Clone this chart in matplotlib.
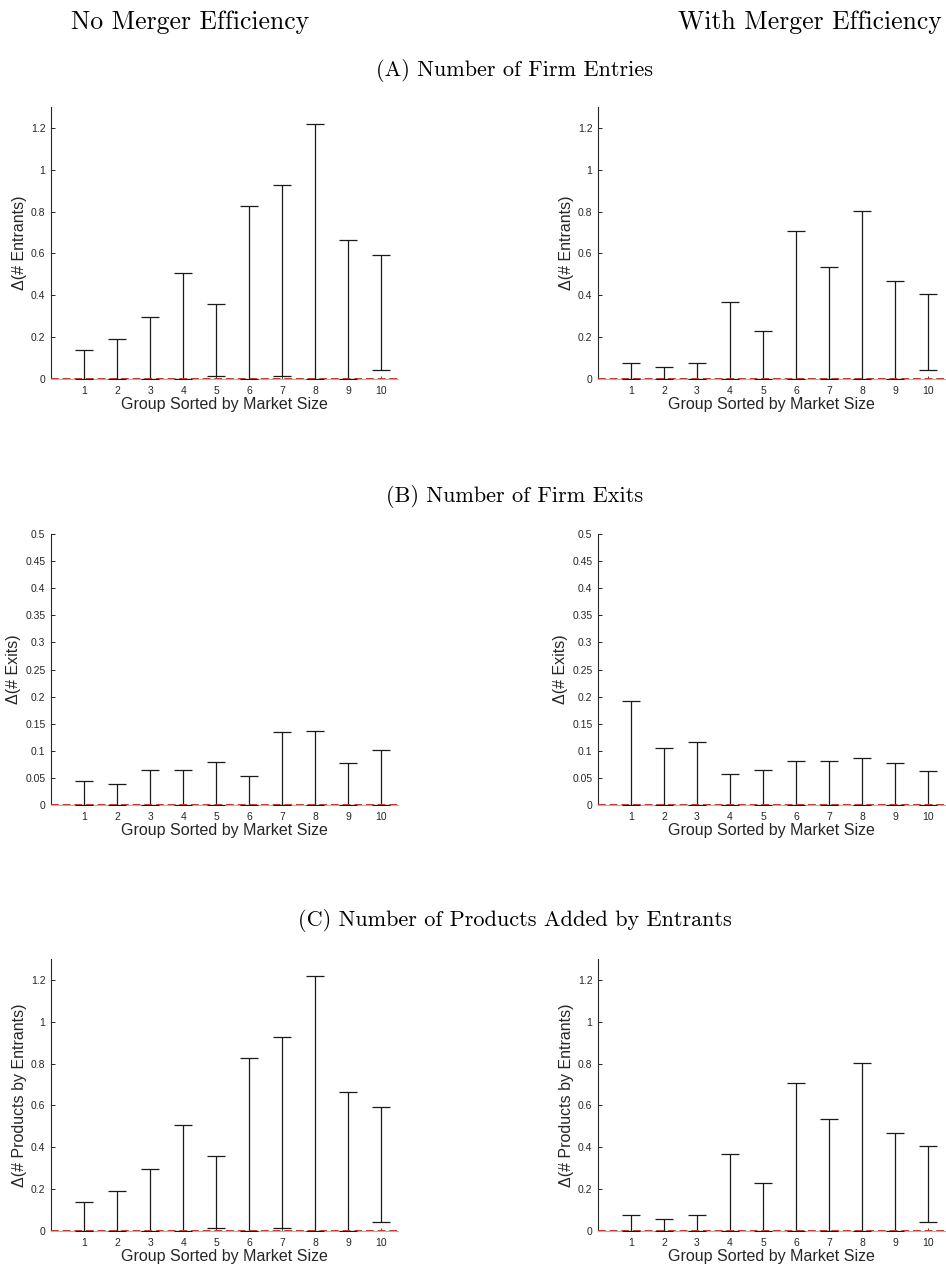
import numpy as np
import matplotlib
matplotlib.use("Agg")
import matplotlib.pyplot as plt

groups = np.arange(1, 11)

# (A) entries
entry_hi_noeff = [0.140, 0.193, 0.294, 0.509, 0.359, 0.825, 0.925, 1.218, 0.662, 0.593]
entry_lo_noeff = [0.0, 0.0, 0.0, 0.0, 0.013, 0.0, 0.013, 0.0, 0.0, 0.045]
entry_hi_eff = [0.077, 0.059, 0.075, 0.367, 0.231, 0.707, 0.533, 0.803, 0.469, 0.405]
entry_lo_eff = [0.0, 0.0, 0.0, 0.0, 0.0, 0.0, 0.0, 0.0, 0.0, 0.045]

# (B) exits
exit_hi_noeff = [0.044, 0.038, 0.064, 0.065, 0.079, 0.054, 0.135, 0.137, 0.078, 0.102]
exit_lo_noeff = [0.0] * 10
exit_hi_eff = [0.191, 0.105, 0.116, 0.058, 0.064, 0.082, 0.082, 0.087, 0.078, 0.062]
exit_lo_eff = [0.0] * 10

# (C) products added by entrants
prod_hi_noeff = [0.140, 0.193, 0.294, 0.509, 0.359, 0.825, 0.925, 1.218, 0.662, 0.593]
prod_lo_noeff = [0.0, 0.0, 0.0, 0.0, 0.013, 0.0, 0.013, 0.0, 0.0, 0.045]
prod_hi_eff = [0.077, 0.059, 0.075, 0.367, 0.231, 0.707, 0.533, 0.803, 0.469, 0.405]
prod_lo_eff = [0.0, 0.0, 0.0, 0.0, 0.0, 0.0, 0.0, 0.0, 0.0, 0.045]

col_titles = ["No Merger Efficiency", "With Merger Efficiency"]
row_titles = ["(A) Number of Firm Entries", "(B) Number of Firm Exits",
              "(C) Number of Products Added by Entrants"]
ylabels = ["\u0394(# Entrants)", "\u0394(# Exits)", "\u0394(# Products by Entrants)"]
xlabel = "Group Sorted by Market Size"

W, H = 946, 1270
fig = plt.figure(figsize=(W / 100, H / 100), dpi=100)

sans = ["Liberation Sans", "DejaVu Sans"]
serif = ["cmr10", "DejaVu Serif"]

def px_axes(x0, x1, ytop, ybot):
    return fig.add_axes([x0 / W, 1 - ybot / H, (x1 - x0) / W, (ybot - ytop) / H])

def draw_panel(ax, lo, hi, ymax, yticks, ylab):
    lo = np.array(lo)
    hi = np.array(hi)
    ax.errorbar(groups, lo, yerr=[np.zeros(len(lo)), hi - lo], fmt="none",
                ecolor="#1a1a1a", elinewidth=0.9, capsize=6.5, capthick=0.9, zorder=3)
    ax.axhline(0, color="#c0392b", linestyle=(0, (4, 2)), linewidth=1.4, zorder=4)
    ax.set_xlim(0, 10.5)
    ax.set_ylim(0, ymax)
    ax.set_xticks(groups)
    ax.set_yticks(yticks)
    ax.set_yticklabels(["%g" % t for t in yticks])
    for s in ["top", "right"]:
        ax.spines[s].set_visible(False)
    ax.spines["bottom"].set_color("#b0b0b0")
    ax.spines["left"].set_color("#262626")
    ax.spines["left"].set_linewidth(0.8)
    ax.tick_params(axis="y", direction="in", length=3, width=0.7, colors="#262626",
                   labelsize=7.5, pad=4)
    ax.tick_params(axis="x", direction="in", length=2, width=0.6, colors="#262626",
                   labelsize=7.5, pad=5)
    for lab in ax.get_xticklabels() + ax.get_yticklabels():
        lab.set_family(sans)
    ax.set_ylabel(ylab, family=sans, fontsize=11.5, color="#262626", labelpad=3)
    ax.set_xlabel(xlabel, family=sans, fontsize=11.5, color="#262626", labelpad=1)

data = [
    [(entry_lo_noeff, entry_hi_noeff), (entry_lo_eff, entry_hi_eff)],
    [(exit_lo_noeff, exit_hi_noeff), (exit_lo_eff, exit_hi_eff)],
    [(prod_lo_noeff, prod_hi_noeff), (prod_lo_eff, prod_hi_eff)],
]
ymaxes = [1.3, 0.5, 1.3]
ytick_sets = [[0, 0.2, 0.4, 0.6, 0.8, 1, 1.2],
              [0, 0.05, 0.1, 0.15, 0.2, 0.25, 0.3, 0.35, 0.4, 0.45, 0.5],
              [0, 0.2, 0.4, 0.6, 0.8, 1, 1.2]]
rows_px = [(107, 379), (534, 805), (959, 1231)]
cols_px = [(51, 398), (598, 944.5)]
row_title_y = [70, 497, 921]

for r in range(3):
    for c in range(2):
        ax = px_axes(cols_px[c][0], cols_px[c][1], rows_px[r][0], rows_px[r][1])
        lo, hi = data[r][c]
        draw_panel(ax, lo, hi, ymaxes[r], ytick_sets[r], ylabels[r])
    fig.text(515 / W, 1 - row_title_y[r] / H, row_titles[r], family=serif,
             fontsize=16, ha="center", va="center")

fig.text(190 / W, 1 - 22 / H, col_titles[0], family=serif, fontsize=18.5,
         ha="center", va="center")
fig.text(810 / W, 1 - 22 / H, col_titles[1], family=serif, fontsize=18.5,
         ha="center", va="center")

fig.savefig("out.png", dpi=100)
